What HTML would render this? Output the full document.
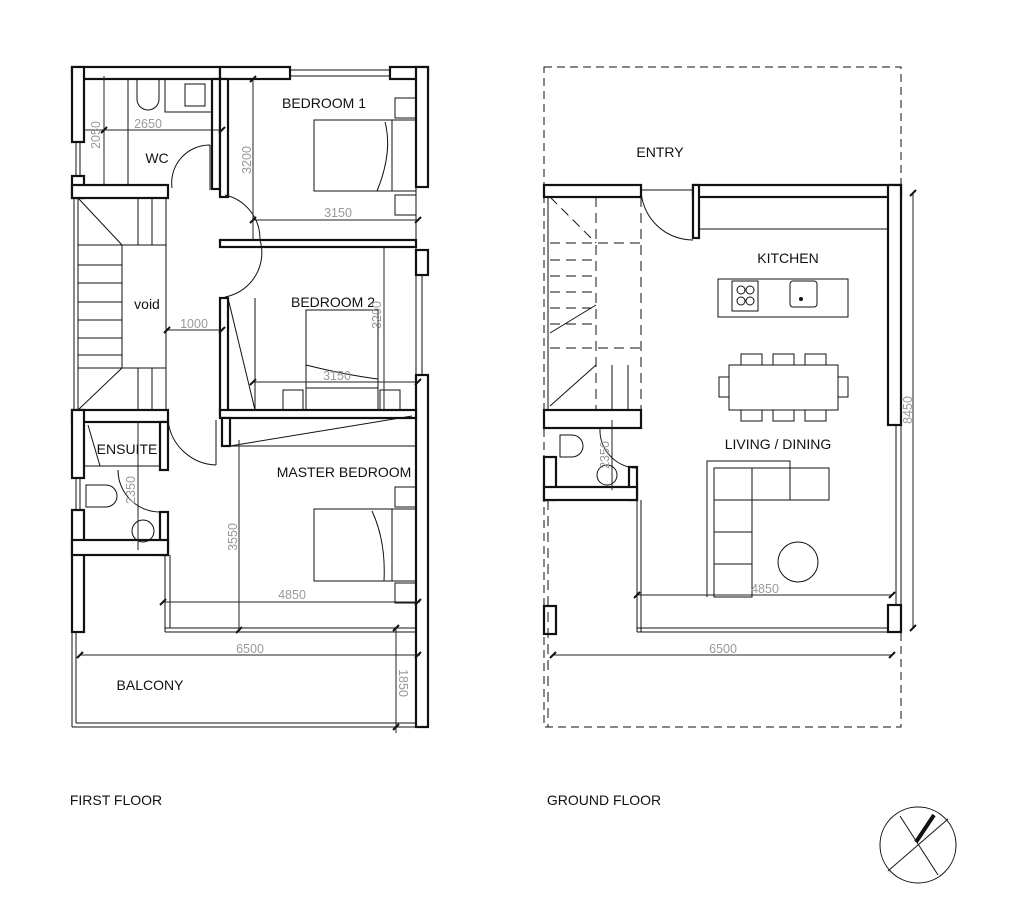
<!DOCTYPE html>
<html><head><style>
html,body{margin:0;padding:0;background:#fff;}
svg{display:block;}
text{font-family:"Liberation Sans",sans-serif;}
.l{font-size:14px;fill:#111;}
.d{font-size:12.5px;fill:#999;}
</style></head><body>
<svg width="1024" height="911" viewBox="0 0 1024 911" xmlns="http://www.w3.org/2000/svg">
<rect width="1024" height="911" fill="#fff"/>
<g fill="#fff" stroke="#111" stroke-width="2.2">
<rect x="72" y="67" width="148" height="12"/>
<rect x="220" y="67" width="70" height="12"/>
<rect x="390" y="67" width="38" height="12"/>
<rect x="416" y="67" width="12" height="120"/>
<rect x="416" y="250" width="12" height="25"/>
<rect x="416" y="375" width="12" height="352"/>
<rect x="72" y="67" width="12" height="75"/>
<rect x="72" y="176" width="12" height="22"/>
<rect x="72" y="185" width="96" height="13"/>
<rect x="212" y="79" width="8" height="110"/>
<rect x="220" y="79" width="8" height="118"/>
<rect x="220" y="240" width="196" height="7"/>
<rect x="220" y="298" width="8" height="115"/>
<rect x="220" y="410" width="196" height="8"/>
<rect x="72" y="410" width="96" height="12"/>
<rect x="72" y="410" width="12" height="68"/>
<rect x="72" y="510" width="12" height="122"/>
<rect x="160" y="422" width="8" height="48"/>
<rect x="160" y="512" width="8" height="43"/>
<rect x="72" y="540" width="96" height="15"/>
<rect x="222" y="418" width="8" height="28"/>
<rect x="544" y="185" width="97" height="12"/>
<rect x="693" y="185" width="208" height="12"/>
<rect x="693" y="185" width="6" height="53"/>
<rect x="888" y="185" width="13" height="240"/>
<rect x="888" y="605" width="13" height="27"/>
<rect x="544" y="410" width="97" height="18"/>
<rect x="544" y="457" width="12" height="43"/>
<rect x="629" y="467" width="8" height="33"/>
<rect x="544" y="487" width="93" height="13"/>
<rect x="544" y="606" width="12" height="28"/>
</g>
<g fill="none" stroke="#111" stroke-width="1">
<line x1="290" y1="70" x2="390" y2="70"/><line x1="290" y1="76" x2="390" y2="76"/>
<line x1="416" y1="187" x2="416" y2="250"/><line x1="422" y1="275" x2="422" y2="375"/><line x1="416" y1="275" x2="416" y2="375"/>
<line x1="76" y1="142" x2="76" y2="176"/><line x1="80" y1="142" x2="80" y2="176"/>
<line x1="74" y1="198" x2="74" y2="410"/><line x1="78" y1="198" x2="78" y2="410"/>
<line x1="128" y1="79" x2="128" y2="185"/>
<rect x="165" y="79" width="47" height="33"/><rect x="185" y="84" width="20" height="22"/>
<path d="M137,79 v20 a11,11 0 0 0 22,0 v-20"/>
<line x1="78" y1="198" x2="122" y2="245"/><line x1="122" y1="245" x2="122" y2="368"/>
<line x1="166" y1="198" x2="166" y2="410"/><line x1="78" y1="410" x2="122" y2="368"/>
<line x1="138" y1="198" x2="138" y2="245"/><line x1="152" y1="198" x2="152" y2="245"/>
<line x1="138" y1="368" x2="138" y2="410"/><line x1="152" y1="368" x2="152" y2="410"/>
<line x1="78" y1="245" x2="166" y2="245"/><line x1="78" y1="368" x2="166" y2="368"/>
<line x1="78" y1="265" x2="122" y2="265"/><line x1="78" y1="283" x2="122" y2="283"/><line x1="78" y1="302" x2="122" y2="302"/><line x1="78" y1="320" x2="122" y2="320"/><line x1="78" y1="338" x2="122" y2="338"/><line x1="78" y1="355" x2="122" y2="355"/>
<path d="M210,145 a38,38 0 0 0 -38,43 M210,145 v45"/>
<path d="M225,195 a45,45 0 0 1 35,45 a45,45 0 0 1 -35,57"/>
<path d="M168,420 a50,50 0 0 0 48,45 M216,420 v45"/>
<path d="M160,512 a42,42 0 0 1 -42,-42"/>
<line x1="228" y1="298" x2="255" y2="410"/><line x1="255" y1="298" x2="255" y2="410"/>
<line x1="230" y1="446" x2="412" y2="416"/>
<line x1="230" y1="446" x2="416" y2="446"/>
<rect x="314" y="120" width="102" height="71"/><line x1="392" y1="120" x2="392" y2="191"/><path d="M385,122 q8,30 -8,69"/>
<rect x="395" y="98" width="21" height="20"/><rect x="395" y="195" width="21" height="20"/>
<rect x="306" y="310" width="72" height="100"/><line x1="306" y1="388" x2="378" y2="388"/><path d="M306,365 q40,10 72,14"/>
<rect x="283" y="390" width="20" height="20"/><rect x="380" y="390" width="20" height="20"/>
<line x1="384" y1="247" x2="384" y2="410"/>
<rect x="314" y="509" width="102" height="72"/><line x1="392" y1="509" x2="392" y2="581"/><path d="M372,511 q14,30 12,70"/>
<rect x="395" y="487" width="21" height="20"/><rect x="395" y="583" width="21" height="20"/>
<line x1="165" y1="555" x2="165" y2="632"/><line x1="170" y1="555" x2="170" y2="628"/>
<line x1="165" y1="628" x2="416" y2="628"/><line x1="165" y1="632" x2="416" y2="632"/>
<line x1="84" y1="466" x2="160" y2="466"/><line x1="88" y1="425" x2="100" y2="466"/>
<path d="M86,485 h20 a11,11 0 0 1 0,22 h-20 z"/>
<line x1="76" y1="478" x2="76" y2="510"/><line x1="80" y1="478" x2="80" y2="510"/>
<circle cx="143" cy="531" r="11"/>
<line x1="72" y1="632" x2="72" y2="727"/><line x1="76" y1="632" x2="76" y2="723"/>
<line x1="72" y1="727" x2="416" y2="727"/><line x1="76" y1="723" x2="416" y2="723"/>
</g>
<g stroke="#222" stroke-width="1" fill="none">
<line x1="84" y1="130" x2="222" y2="130"/><line x1="104" y1="76" x2="104" y2="186"/>
<line x1="253" y1="79" x2="253" y2="240"/><line x1="253" y1="220" x2="418" y2="220"/>
<line x1="167" y1="330" x2="222" y2="330"/>
<line x1="384" y1="247" x2="384" y2="410"/><line x1="253" y1="382" x2="418" y2="382"/>
<line x1="239" y1="440" x2="239" y2="630"/><line x1="138" y1="422" x2="138" y2="550"/>
<line x1="163" y1="602" x2="420" y2="602"/>
<line x1="80" y1="655" x2="420" y2="655"/><line x1="396" y1="628" x2="396" y2="733"/>
<line x1="913" y1="193" x2="913" y2="628"/><line x1="553" y1="655" x2="892" y2="655"/>
<line x1="637" y1="595" x2="892" y2="595"/><line x1="612" y1="420" x2="612" y2="490"/>
</g>
<g stroke="#111" stroke-width="2">
<path d="M101,133 l6,-6 M219,133 l6,-6 M250,82 l6,-6 M250,223 l6,-6 M415,223 l6,-6 M164,333 l6,-6 M219,333 l6,-6 M250,385 l6,-6 M415,385 l6,-6 M160,605 l6,-6 M415,605 l6,-6 M77,658 l6,-6 M415,658 l6,-6 M393,631 l6,-6 M393,730 l6,-6 M236,633 l6,-6 M910,196 l6,-6 M910,631 l6,-6 M550,658 l6,-6 M889,658 l6,-6 M634,598 l6,-6 M889,598 l6,-6"/>
</g>
<g fill="none" stroke="#111" stroke-width="1">
<rect x="544" y="67" width="357" height="660" stroke-dasharray="8,5"/>
<line x1="548" y1="197" x2="548" y2="410"/>
<line x1="699" y1="229" x2="888" y2="229"/><line x1="699" y1="197" x2="699" y2="229"/>
<path d="M641,190 a52,52 0 0 0 52,50 M641,190 h52"/>
<g stroke-dasharray="10,6">
<line x1="641" y1="197" x2="641" y2="410"/>
<line x1="596" y1="197" x2="596" y2="410"/>
<line x1="550" y1="243" x2="641" y2="243"/>
<line x1="550" y1="260" x2="596" y2="260"/><line x1="550" y1="276" x2="596" y2="276"/><line x1="550" y1="292" x2="596" y2="292"/><line x1="550" y1="308" x2="596" y2="308"/><line x1="550" y1="324" x2="596" y2="324"/><line x1="550" y1="348" x2="641" y2="348"/>
<line x1="550" y1="197" x2="596" y2="243"/>
<line x1="548" y1="500" x2="548" y2="727"/>
</g>
<line x1="550" y1="333" x2="596" y2="305"/><line x1="550" y1="406" x2="596" y2="365"/>
<line x1="612" y1="365" x2="612" y2="410"/><line x1="628" y1="365" x2="628" y2="410"/>
<line x1="896" y1="425" x2="896" y2="605"/><line x1="901" y1="425" x2="901" y2="605"/>
<line x1="637" y1="628" x2="888" y2="628"/><line x1="637" y1="632" x2="901" y2="632"/>
<line x1="637" y1="500" x2="637" y2="632"/><line x1="641" y1="500" x2="641" y2="632"/>
<path d="M600,428 a38,38 0 0 0 36,40"/>
<path d="M560,435 h12 a11,11 0 0 1 0,22 h-12 z"/>
<circle cx="607" cy="475" r="10"/>
<rect x="718" y="279" width="130" height="38"/>
<rect x="732" y="281" width="26" height="30"/>
<circle cx="741" cy="290" r="4"/><circle cx="750" cy="290" r="4"/><circle cx="741" cy="301" r="4"/><circle cx="750" cy="301" r="4"/>
<rect x="790" y="281" width="27" height="26" rx="3"/>
<rect x="729" y="365" width="109" height="45"/>
<rect x="741" y="354" width="21" height="11"/><rect x="773" y="354" width="21" height="11"/><rect x="805" y="354" width="21" height="11"/>
<rect x="741" y="410" width="21" height="11"/><rect x="773" y="410" width="21" height="11"/><rect x="805" y="410" width="21" height="11"/>
<rect x="719" y="377" width="10" height="20"/><rect x="838" y="377" width="10" height="20"/>
<path d="M707,597 V461 H790 V468"/>
<rect x="714" y="468" width="115" height="32"/>
<line x1="752" y1="468" x2="752" y2="500"/><line x1="790" y1="468" x2="790" y2="500"/>
<rect x="714" y="500" width="38" height="97"/>
<line x1="714" y1="532" x2="752" y2="532"/><line x1="714" y1="564" x2="752" y2="564"/>
<circle cx="798" cy="562" r="20"/>
<circle cx="918" cy="845" r="38"/>
<line x1="888" y1="871" x2="948" y2="819"/>
<line x1="900" y1="816" x2="938" y2="875"/>
<line x1="916" y1="842" x2="934" y2="815" stroke-width="4"/>
</g>
<circle cx="801" cy="299" r="2" fill="#111"/>
<text class="l" x="324" y="108" text-anchor="middle">BEDROOM 1</text>
<text class="l" x="157" y="163" text-anchor="middle">WC</text>
<text class="l" x="147" y="309" text-anchor="middle">void</text>
<text class="l" x="333" y="307" text-anchor="middle">BEDROOM 2</text>
<text class="l" x="127" y="454" text-anchor="middle">ENSUITE</text>
<text class="l" x="344" y="477" text-anchor="middle">MASTER BEDROOM</text>
<text class="l" x="150" y="690" text-anchor="middle">BALCONY</text>
<text class="l" x="116" y="805" text-anchor="middle">FIRST FLOOR</text>
<text class="l" x="604" y="805" text-anchor="middle">GROUND FLOOR</text>
<text class="l" x="660" y="157" text-anchor="middle">ENTRY</text>
<text class="l" x="788" y="263" text-anchor="middle">KITCHEN</text>
<text class="l" x="778" y="449" text-anchor="middle">LIVING / DINING</text>
<g class="d" text-anchor="middle">
<text x="148" y="128">2650</text>
<text x="338" y="217">3150</text>
<text x="194" y="328">1000</text>
<text x="337" y="380">3150</text>
<text x="292" y="599">4850</text>
<text x="250" y="653">6500</text>
<text x="765" y="593">4850</text>
<text x="723" y="653">6500</text>
<text transform="translate(100,135) rotate(-90)">2050</text>
<text transform="translate(251,160) rotate(-90)">3200</text>
<text transform="translate(381,315) rotate(-90)">3200</text>
<text transform="translate(237,537) rotate(-90)">3550</text>
<text transform="translate(135,490) rotate(-90)">2350</text>
<text transform="translate(399,683) rotate(90)">1850</text>
<text transform="translate(912,410) rotate(-90)">8450</text>
<text transform="translate(609,455) rotate(-90)">2350</text>
</g>
</svg>
</body></html>
